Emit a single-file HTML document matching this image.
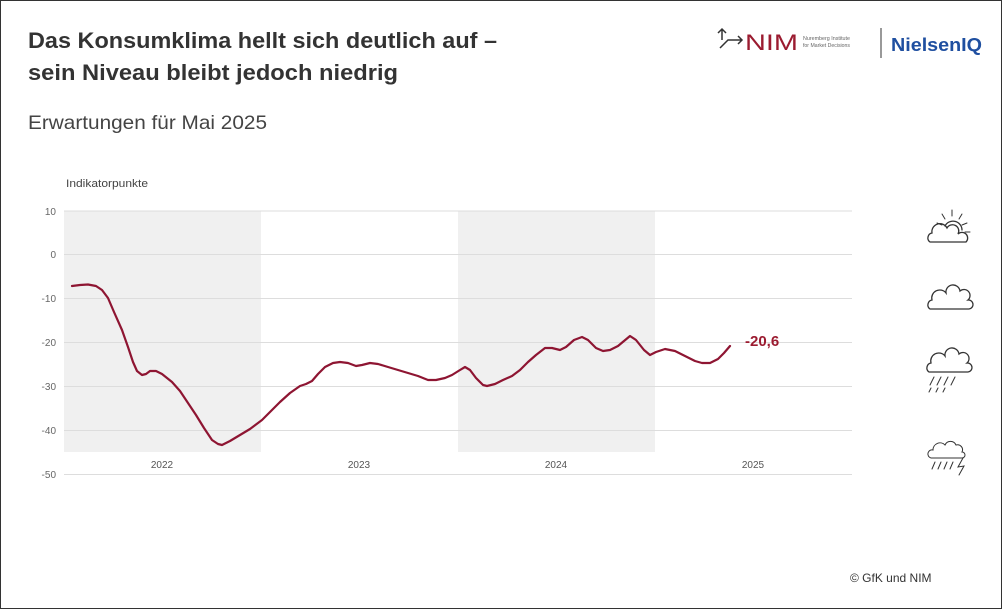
<!DOCTYPE html>
<html><head><meta charset="utf-8"><style>
body{margin:0;background:#fff;}
.wrap{position:relative;width:1000px;height:607px;border:1px solid #333;overflow:hidden;font-family:"Liberation Sans",sans-serif;}
</style></head><body><div class="wrap">
<svg width="1002" height="609" style="position:absolute;left:-1px;top:-1px" font-family="Liberation Sans, sans-serif">
<text x="28" y="48" font-size="22" font-weight="bold" fill="#333" textLength="469" lengthAdjust="spacingAndGlyphs">Das Konsumklima hellt sich deutlich auf –</text>
<text x="28" y="80" font-size="22" font-weight="bold" fill="#333" textLength="370" lengthAdjust="spacingAndGlyphs">sein Niveau bleibt jedoch niedrig</text>
<text x="28" y="129" font-size="19.5" fill="#444" textLength="239" lengthAdjust="spacingAndGlyphs">Erwartungen für Mai 2025</text>
<text x="66" y="187" font-size="11" fill="#444" textLength="82" lengthAdjust="spacingAndGlyphs">Indikatorpunkte</text>
<!-- logos -->
<path d="M722 40 L722 30 M718 33 L722 29 L726 33 M720 48 L728 40 L742 40 M738 36 L742 40 L738 44" stroke="#333" stroke-width="1.5" fill="none"/>
<text x="745" y="50" font-size="22" fill="#9b1b30" textLength="53" lengthAdjust="spacingAndGlyphs">NIM</text>
<text x="803" y="40" font-size="5.5" fill="#666" textLength="47" lengthAdjust="spacingAndGlyphs">Nuremberg Institute</text>
<text x="803" y="47" font-size="5.5" fill="#666" textLength="47" lengthAdjust="spacingAndGlyphs">for Market Decisions</text>
<line x1="881" y1="28" x2="881" y2="58" stroke="#333" stroke-width="1"/>
<text x="891" y="51" font-size="18" font-weight="bold" fill="#1f4fa0" textLength="91" lengthAdjust="spacingAndGlyphs">NielsenIQ</text>
<!-- bands -->
<rect x="64" y="211" width="197" height="241" fill="#f0f0f0"/>
<rect x="458" y="211" width="197" height="241" fill="#f0f0f0"/>
<g stroke="#ddd" stroke-width="1">
<line x1="64" y1="211" x2="852" y2="211"/><line x1="64" y1="254.5" x2="852" y2="254.5"/>
<line x1="64" y1="298.5" x2="852" y2="298.5"/><line x1="64" y1="342.5" x2="852" y2="342.5"/>
<line x1="64" y1="386.5" x2="852" y2="386.5"/><line x1="64" y1="430.5" x2="852" y2="430.5"/>
<line x1="64" y1="474.5" x2="852" y2="474.5"/>
</g>
<g font-size="10" fill="#666" text-anchor="end">
<text x="56" y="215">10</text><text x="56" y="258">0</text><text x="56" y="302">-10</text>
<text x="56" y="346">-20</text><text x="56" y="390">-30</text><text x="56" y="434">-40</text><text x="56" y="478">-50</text>
</g>
<g font-size="10" fill="#555" text-anchor="middle">
<text x="162" y="468">2022</text><text x="359" y="468">2023</text><text x="556" y="468">2024</text><text x="753" y="468">2025</text>
</g>
<polyline fill="none" stroke="#8e1532" stroke-width="2.2" stroke-linejoin="round" stroke-linecap="round" points="72,286 80,285 88,284.5 96,286 102,290 108,298 114,312 122,330 128,347 133,362 137,371 142,375 146,374 150,371 156,371 162,374 172,382 180,391 188,403 196,415 204,428 212,440 218,444 222,445 230,441 240,435 250,429 262,420 270,412 280,402 290,393 300,386 306,384 312,381 318,374 325,367 333,363 340,362 348,363 356,366 362,365 370,363 378,364 388,367 398,370 408,373 418,376 428,380 436,380 445,378 452,375 460,370 465,367 470,370 476,378 483,385 487,386 495,384 503,380 512,376 520,370 528,362 536,355 545,348 552,348 560,350 566,347 574,340 582,337 588,340 596,348 603,351 610,350 618,346 624,341 630,336 636,340 644,350 650,355 656,352 665,349 675,351 685,356 695,361 702,363 710,363 718,359 724,353 730,346"/>
<text x="745" y="346" font-size="15" font-weight="bold" fill="#9b1b30">-20,6</text>
<!-- weather icons -->
<g fill="none" stroke="#333" stroke-width="1.3" stroke-linecap="round">
<g stroke-width="1">
<path d="M952 210 L952 216 M942 214 L945 219 M962 214 L959 219 M937 223 L942 225 M967 223 L962 225 M970 232 L965 232"/>
</g>
<path d="M945 226 A9 9 0 0 1 962 230"/>
<path d="M930 242 A5 5 0 0 1 932 233 A8 8 0 0 1 947 228 A6 6 0 0 1 958 234 A4 4 0 0 1 966 242 Z"/>
<path d="M930 309 A5 5 0 0 1 932 300 A8 8 0 0 1 946 293 A7 7 0 0 1 960 291 A6 6 0 0 1 968 300 A4 4 0 0 1 969 309 Z"/>
<path d="M929 372 A5 5 0 0 1 931 363 A8 8 0 0 1 945 356 A7 7 0 0 1 959 354 A6 6 0 0 1 967 363 A4 4 0 0 1 968 372 Z"/>
<path d="M934 377 L930 385 M941 377 L937 385 M948 377 L944 385 M955 377 L951 385 M931 388 L929 392 M938 388 L936 392 M945 388 L943 392" stroke-width="1"/>
<path d="M931 458 A4 4 0 0 1 933 450 A7 7 0 0 1 945 445 A6 6 0 0 1 956 445 A5 5 0 0 1 962 452 A3 3 0 0 1 962 458 Z" stroke-width="1"/>
<path d="M935 462 L932 469 M941 462 L938 469 M947 462 L944 469 M953 462 L950 469 M963 458 L958 467 L964 466 L959 475" stroke-width="1"/>
</g>
<text x="850" y="582" font-size="12" fill="#333">© GfK und NIM</text>
</svg>
</div></body></html>
